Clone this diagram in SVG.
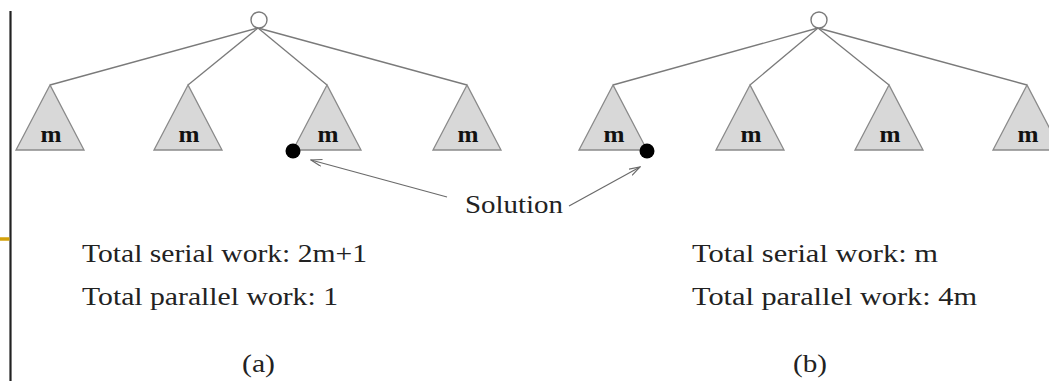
<svg xmlns="http://www.w3.org/2000/svg" width="1049" height="381" viewBox="0 0 1049 381">
<defs>
<style>
.edge{stroke:#7a7a7a;stroke-width:1.3;fill:none}
.tri{fill:#d8d8d8;stroke:#8a8a8a;stroke-width:1.3}
.root{fill:#fff;stroke:#7a7a7a;stroke-width:1.4}
.dot{fill:#000}
.m{font-family:"Liberation Serif",serif;font-weight:bold;font-size:24px;fill:#111;text-anchor:middle}
.t{font-family:"Liberation Serif",serif;font-size:26px;fill:#222}
.arr{stroke:#6a6a6a;stroke-width:1.2;fill:none;marker-end:url(#ah)}
</style>
<marker id="ah" viewBox="0 0 12 8" refX="11" refY="4" markerWidth="12" markerHeight="8" markerUnits="userSpaceOnUse" orient="auto">
<path d="M0,0.5 L11,4 L0,7.5" fill="none" stroke="#6a6a6a" stroke-width="1.2"/>
</marker>
</defs>
<rect width="1049" height="381" fill="#fff"/>
<line x1="10.5" y1="11" x2="10.5" y2="381" stroke="#222" stroke-width="2.2"/>
<line x1="0" y1="239" x2="9.5" y2="239" stroke="#d4a20a" stroke-width="3.5"/>
<g id="connectors">
<line class="edge" x1="258" y1="28" x2="50" y2="85"/>
<line class="edge" x1="258" y1="28" x2="188" y2="85"/>
<line class="edge" x1="258" y1="28" x2="327" y2="85"/>
<line class="edge" x1="258" y1="28" x2="467" y2="85"/>
<line class="edge" x1="818" y1="28" x2="613" y2="85"/>
<line class="edge" x1="818" y1="28" x2="750" y2="85"/>
<line class="edge" x1="818" y1="28" x2="889" y2="85"/>
<line class="edge" x1="818" y1="28" x2="1027" y2="85"/>
<line class="arr" x1="447" y1="197" x2="311" y2="160"/>
<line class="arr" x1="569" y1="206" x2="640" y2="167"/>
</g>
<g id="a-root"><circle class="root" cx="259" cy="20" r="8"/></g>
<g id="a-t1"><polygon class="tri" points="50,85 16,150 84,150"/><text class="m" x="51" y="142" textLength="21" lengthAdjust="spacingAndGlyphs">m</text></g>
<g id="a-t2"><polygon class="tri" points="188,85 154,150 222,150"/><text class="m" x="189" y="142" textLength="21" lengthAdjust="spacingAndGlyphs">m</text></g>
<g id="a-t3"><polygon class="tri" points="327,85 293,150 361,150"/><text class="m" x="328" y="142" textLength="21" lengthAdjust="spacingAndGlyphs">m</text></g>
<g id="a-t4"><polygon class="tri" points="467,85 433,150 501,150"/><text class="m" x="468" y="142" textLength="21" lengthAdjust="spacingAndGlyphs">m</text></g>
<g id="a-sol"><circle class="dot" cx="293" cy="151" r="7.5"/></g>
<g id="b-root"><circle class="root" cx="819" cy="20" r="8"/></g>
<g id="b-t1"><polygon class="tri" points="613,85 579,150 647,150"/><text class="m" x="614" y="142" textLength="21" lengthAdjust="spacingAndGlyphs">m</text></g>
<g id="b-t2"><polygon class="tri" points="750,85 716,150 784,150"/><text class="m" x="751" y="142" textLength="21" lengthAdjust="spacingAndGlyphs">m</text></g>
<g id="b-t3"><polygon class="tri" points="889,85 855,150 923,150"/><text class="m" x="890" y="142" textLength="21" lengthAdjust="spacingAndGlyphs">m</text></g>
<g id="b-t4"><polygon class="tri" points="1027,85 993,150 1061,150"/><text class="m" x="1028" y="142" textLength="21" lengthAdjust="spacingAndGlyphs">m</text></g>
<g id="b-sol"><circle class="dot" cx="647" cy="151" r="7.5"/></g>
<g id="solution-label"><text class="t" x="465" y="213" textLength="98" lengthAdjust="spacingAndGlyphs">Solution</text></g>
<g id="text-a">
<text class="t" x="82" y="262" textLength="285" lengthAdjust="spacingAndGlyphs">Total serial work: 2m+1</text>
<text class="t" x="82" y="305" textLength="256" lengthAdjust="spacingAndGlyphs">Total parallel work: 1</text>
<text class="t" x="242" y="372" textLength="33" lengthAdjust="spacingAndGlyphs">(a)</text>
</g>
<g id="text-b">
<text class="t" x="692" y="262" textLength="246" lengthAdjust="spacingAndGlyphs">Total serial work: m</text>
<text class="t" x="692" y="305" textLength="285" lengthAdjust="spacingAndGlyphs">Total parallel work: 4m</text>
<text class="t" x="793" y="372" textLength="34" lengthAdjust="spacingAndGlyphs">(b)</text>
</g>
</svg>
